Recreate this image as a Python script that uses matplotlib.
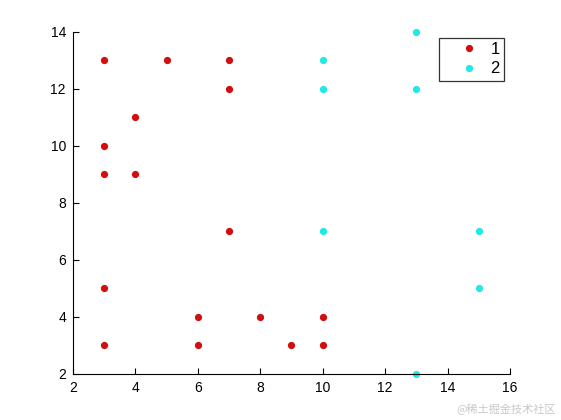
import matplotlib
matplotlib.use("Agg")
import matplotlib.pyplot as plt

# Group 1 (red)
x1 = [3, 3, 3, 3, 3, 4, 4, 5, 7, 7, 7, 6, 6, 8, 9, 10, 10]
y1 = [13, 10, 9, 5, 3, 11, 9, 13, 13, 12, 7, 4, 3, 4, 3, 4, 3]
# Group 2 (cyan)
x2 = [10, 10, 10, 13, 13, 13, 15, 15]
y2 = [13, 12, 7, 14, 12, 2, 7, 5]

labels = ["1", "2"]
xticks = [2, 4, 6, 8, 10, 12, 14, 16]
yticks = [2, 4, 6, 8, 10, 12, 14]

plt.rcParams['font.family'] = ['Liberation Sans', 'DejaVu Sans']
fig = plt.figure(figsize=(5.61, 4.2), dpi=100)
ax = fig.add_axes([0.13, 0.11, 0.779, 0.814])

ax.plot(x1, y1, linestyle='none', marker='o', markersize=4.2, color='#d01010',
        label=labels[0], clip_on=False, zorder=3)
ax.plot(x2, y2, linestyle='none', marker='o', markersize=4.2, color='#22e8e8',
        label=labels[1], clip_on=False, zorder=1)

ax.set_xlim(2, 16)
ax.set_ylim(2, 14)
ax.set_xticks(xticks)
ax.set_yticks(yticks)
ax.spines['top'].set_visible(False)
ax.spines['right'].set_visible(False)
ax.tick_params(direction='in', length=4, labelsize=10, width=0.8, pad=5)

leg = ax.legend(loc='upper right', bbox_to_anchor=(0.986, 0.982), frameon=True, fancybox=False,
                edgecolor='black', fontsize=12, markerfirst=True, handlelength=3.0,
                borderpad=0.25, labelspacing=0.25, handletextpad=-0.2, borderaxespad=0)
leg.get_frame().set_linewidth(0.9)

fig.text(0.99, 0.012, "@稀土掘金技术社区", ha='right', va='bottom', color='#c8c8c8', fontsize=8,
         family=['Noto Sans CJK SC', 'DejaVu Sans'])

fig.savefig("out.png", dpi=100)
